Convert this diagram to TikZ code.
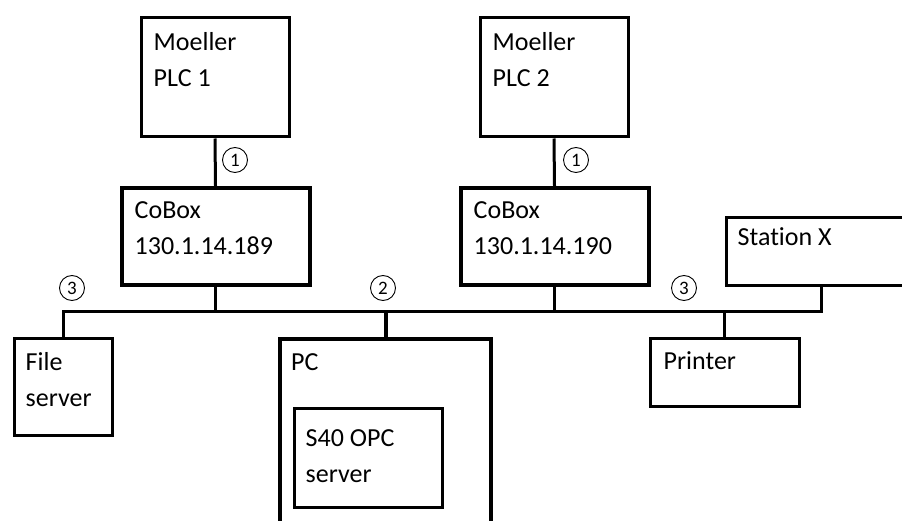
\documentclass[tikz,border=0pt]{standalone}
\usepackage{fontspec}
\setmainfont{Carlito}[Ligatures=NoCommon]
\usetikzlibrary{positioning}
\usetikzlibrary{calc}

\tikzset{
  unit/.style={draw, line width=3pt, inner sep=0pt, anchor=north west},
  thickunit/.style={unit, line width=4pt},
  txt/.style={anchor=base west, align=left, inner sep=0pt, font=\fontsize{26}{36}\selectfont},
  numcircle/.style={draw, circle, line width=0.9pt, minimum size=25pt, inner sep=0pt, font=\fontsize{19}{19}\selectfont},
  link/.style={line width=3pt},
  thicklink/.style={line width=4pt}
}

\begin{document}
\begin{tikzpicture}[x=1pt,y=-1pt]
			\useasboundingbox (0,0) rectangle (902,521);
			% devices
			\node[unit, minimum width=148pt, minimum height=119pt] (plcA) at (139.5,16.5) {};
			\node[unit, minimum width=148pt, minimum height=119pt] (plcB) at (478.5,16.5) {};
			\node[thickunit, minimum width=188pt, minimum height=97pt] (coboxA) at (119.5,186) {};
			\node[thickunit, minimum width=188pt, minimum height=97pt] (coboxB) at (458.5,186) {};
			\node[unit, minimum width=190pt, minimum height=68pt] (stationX) at (724.5,216.5) {};
			\node[unit, minimum width=98pt, minimum height=97pt] (fileserver) at (12.5,336.5) {};
			\node[thickunit, minimum width=211pt, minimum height=200pt] (pc) at (278,337) {};
			\node[unit, minimum width=148pt, minimum height=99pt] (opc) at (292.5,406.5) {};
			\node[unit, minimum width=149pt, minimum height=68pt] (printer) at (648.5,336.5) {};
			% labels (base = last line)
			\node[txt] (plcAtxt) at ($(plcA.north west)+(14,70)$) {Moeller\\PLC 1};
			\node[txt] (plcBtxt) at ($(plcB.north west)+(14,70)$) {Moeller\\PLC 2};
			\node[txt] (coboxAtxt) at ($(coboxA.north west)+(15,69)$) {CoBox\\130.1.14.189};
			\node[txt] (coboxBtxt) at ($(coboxB.north west)+(15,69)$) {CoBox\\130.1.14.190};
			\node[txt] (stationXtxt) at ($(stationX.north west)+(13,29)$) {Station X};
			\node[txt] (fileservertxt) at ($(fileserver.north west)+(13,70)$) {File\\server};
			\node[txt] (pctxt) at ($(pc.north west)+(13,33)$) {PC};
			\node[txt] (opctxt) at ($(opc.north west)+(13,76)$) {S40 OPC\\server};
			\node[txt] (printertxt) at ($(printer.north west)+(15,33)$) {Printer};
			% links
			\coordinate (bus) at (0,311);
			\draw[link] (plcA.south) -- (coboxA.north);
			\draw[link] (plcB.south) -- (coboxB.north);
			\draw[link] (fileserver.north) -- (fileserver.north |- bus) -- (bus -| stationX.south) -- (stationX.south);
			\draw[link] (coboxA.south) -- (coboxA.south |- bus);
			\draw[link] (coboxB.south) -- (coboxB.south |- bus);
			\draw[link] (printer.north) -- (printer.north |- bus);
			\draw[thicklink] (pc.north) -- (pc.north |- bus);
			% numbers
			\node[numcircle] (numA) at (235,160) {1};
			\node[numcircle] (numB) at (576,160) {1};
			\node[numcircle] (numC) at (72,288) {3};
			\node[numcircle] (numD) at (383,288) {2};
			\node[numcircle] (numE) at (684,288) {3};
		\end{tikzpicture}
\end{document}
